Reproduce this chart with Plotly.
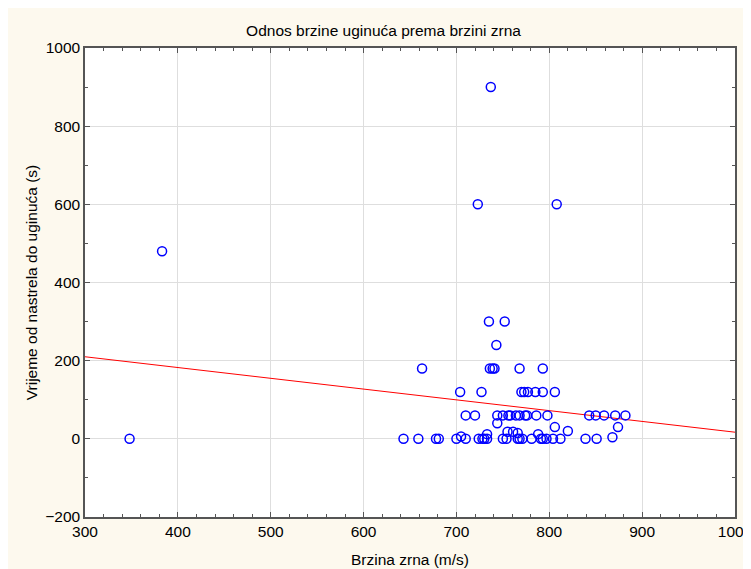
import plotly.graph_objects as go

# Scatter data (bullet speed m/s, time from shot to death s)
speed = [348, 383, 737, 723, 808,
         735, 752, 743,
         663, 736, 739, 741, 768, 793,
         704, 727, 770, 773, 777, 785, 793, 806,
         710, 720, 744, 750, 756, 764, 758, 768, 774, 776, 786, 798, 843, 850, 859, 871, 882,
         744, 806, 874,
         733, 755, 761, 766, 788, 820, 705, 868,
         643, 659, 678, 681, 700, 710, 724, 728, 730, 733, 750, 754, 766, 768, 771, 781,
         791, 793, 797, 804, 812, 839, 851]
time_s = [0, 480, 900, 600, 600,
          300, 300, 240,
          180, 180, 180, 180, 180, 180,
          120, 120, 120, 120, 120, 120, 120, 120,
          60, 60, 60, 60, 60, 60, 60, 60, 60, 60, 60, 60, 60, 60, 60, 60, 60,
          40, 30, 30,
          12, 18, 18, 15, 12, 20, 6, 4,
          0, 0, 0, 0, 0, 0, 0, 0, 0, 0, 0, 0, 0, 0, 0, 0,
          0, 0, 0, 0, 0, 0, 0]

# Linear trend line endpoints
trend_x = [300, 1000]
trend_y = [210, 17]

title_text = "Odnos brzine uginuća prema brzini zrna"
x_title = "Brzina zrna (m/s)"
y_title = "Vrijeme od nastrela do uginuća (s)"

FONT = "Liberation Sans, Arial"
FS = 15.5

fig = go.Figure()
fig.add_trace(go.Scatter(x=trend_x, y=trend_y, mode="lines",
                         line=dict(color="#ff0000", width=1), showlegend=False,
                         hoverinfo="skip"))
fig.add_trace(go.Scatter(x=speed, y=time_s, mode="markers",
                         marker=dict(symbol="circle-open", size=9, color="#0000ff",
                                     line=dict(width=1.5, color="#0000ff")),
                         showlegend=False))

axis_common = dict(showline=True, linecolor="#555555", linewidth=1.5, mirror="ticks",
                   showgrid=True, gridcolor="#dedede", gridwidth=1, zeroline=False,
                   ticks="inside", ticklen=5, tickcolor="#555555", automargin=False,
                   tickfont=dict(family=FONT, size=FS, color="#000000"))

fig.update_layout(
    width=751, height=569,
    paper_bgcolor="#fdf9ee", plot_bgcolor="#ffffff",
    margin=dict(l=77, r=24, t=40, b=60),
    title=dict(text=title_text, x=0.5, xanchor="center", y=0.961, yanchor="middle",
               font=dict(family=FONT, size=FS, color="#000000")),
    font=dict(family=FONT, size=FS, color="#000000"),
)
fig.update_xaxes(range=[300, 1000], dtick=100, tick0=300,
                 minor=dict(ticks="inside", dtick=20, ticklen=3, tickcolor="#555555", showgrid=False),
                 title=dict(text=x_title, standoff=15, font=dict(family=FONT, size=FS)),
                 **axis_common)
fig.update_yaxes(range=[-200, 1000], dtick=200, tick0=-200,
                 minor=dict(ticks="inside", dtick=100, ticklen=3, tickcolor="#555555", showgrid=False),
                 title=dict(text=y_title, standoff=4, font=dict(family=FONT, size=FS)),
                 **axis_common)

fig.write_html("out.html",
               post_script="document.body.style.overflow='hidden';")
